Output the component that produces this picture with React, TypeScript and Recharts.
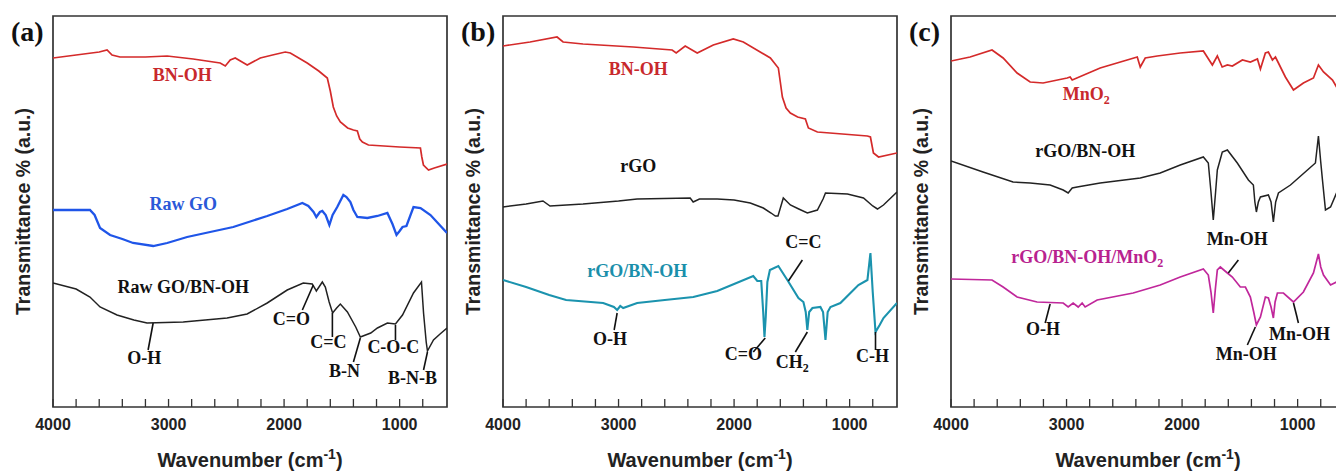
import React from "react";
import { LineChart, Line, XAxis, YAxis, ReferenceArea, ReferenceLine, ReferenceDot } from "recharts";

// wavenumber (cm-1), transmittance (a.u., offset per trace)
const BNOH_A: [number, number][] = [
  [4000, 349], [3800, 352], [3600, 355], [3532, 357], [3489, 352], [3420, 350], [3200, 350], [3012, 351],
  [2787, 348], [2553, 344], [2509, 341], [2466, 347], [2423, 349], [2319, 342], [2206, 349], [2100, 352],
  [1990, 355], [1946, 354], [1800, 344], [1700, 336], [1626, 329], [1600, 316], [1574, 300], [1545, 291],
  [1513, 285], [1450, 279], [1400, 277], [1366, 276], [1345, 268], [1322, 265], [1270, 262], [1000, 260],
  [820, 259], [808, 250], [794, 242], [750, 237], [700, 239], [590, 243],
];
const RAWGO_A: [number, number][] = [
  [4000, 197], [3680, 197], [3640, 192], [3593, 179], [3506, 172], [3400, 168], [3307, 164], [3133, 161],
  [3012, 164], [2839, 170], [2640, 175], [2440, 180], [2146, 191], [1973, 198], [1842, 204], [1790, 201],
  [1745, 195], [1721, 190], [1690, 195], [1669, 196], [1640, 192], [1608, 182], [1580, 192], [1540, 200],
  [1487, 212], [1460, 210], [1426, 205], [1400, 197], [1366, 190], [1279, 189], [1192, 191], [1106, 194],
  [1062, 183], [1027, 172], [1000, 176], [975, 180], [941, 181], [880, 200], [819, 199], [733, 192], [590, 174],
];
const RAWGOBN_A: [number, number][] = [
  [4000, 124], [3800, 118], [3680, 110], [3593, 100], [3446, 92], [3300, 87], [3186, 84], [2873, 85],
  [2493, 89], [2320, 93], [2146, 104], [1973, 117], [1834, 124], [1756, 123], [1730, 118], [1721, 116],
  [1669, 125], [1643, 120], [1610, 105], [1580, 94], [1545, 99], [1513, 103], [1452, 95], [1380, 80],
  [1340, 70], [1250, 74], [1192, 79], [1106, 84], [1036, 83], [975, 92], [880, 114], [811, 125], [793, 94],
  [770, 65], [759, 56], [707, 67], [650, 73], [590, 79],
];

const BNOH_B: [number, number][] = [
  [4000, 361], [3766, 365], [3532, 370], [3480, 365], [3307, 363], [2873, 360], [2536, 357], [2501, 354],
  [2423, 361], [2319, 354], [2180, 362], [2007, 368], [1920, 365], [1686, 349], [1617, 339], [1600, 325],
  [1582, 310], [1550, 299], [1513, 294], [1450, 290], [1383, 288], [1357, 279], [1279, 275], [846, 271],
  [820, 270], [794, 254], [750, 250], [590, 254],
];
const RGO_B: [number, number][] = [
  [4000, 200], [3800, 203], [3654, 206], [3593, 201], [3307, 203], [3000, 206], [2839, 208], [2380, 209],
  [2354, 205], [2300, 208], [2146, 208], [2000, 207], [1860, 204], [1747, 199], [1680, 194], [1643, 191],
  [1620, 191], [1574, 209], [1513, 202], [1440, 198], [1366, 194], [1279, 197], [1230, 208], [1209, 214],
  [1019, 213], [880, 209], [800, 201], [759, 198], [707, 202], [590, 215],
];
const RGOBN_B: [number, number][] = [
  [4000, 127], [3800, 120], [3600, 112], [3454, 107], [3133, 104], [3040, 100], [3012, 97], [2985, 101],
  [2960, 99], [2839, 104], [2600, 107], [2353, 110], [2146, 116], [2000, 123], [1834, 131], [1799, 126],
  [1765, 126], [1748, 95], [1737, 70], [1726, 90], [1712, 125], [1690, 137], [1617, 141], [1539, 127],
  [1443, 109], [1400, 105], [1380, 95], [1366, 77], [1350, 95], [1322, 99], [1253, 100], [1230, 95],
  [1209, 67], [1190, 95], [1166, 100], [1080, 104], [924, 122], [846, 127], [820, 154], [800, 115],
  [776, 75], [740, 82], [707, 89], [590, 104],
];

const MNO2_C: [number, number][] = [
  [4000, 346], [3835, 350], [3645, 357], [3549, 349], [3428, 334], [3315, 325], [3203, 324], [2995, 329],
  [2969, 330], [2951, 327], [2709, 339], [2388, 350], [2362, 340], [2319, 349], [2215, 351], [2016, 354],
  [1816, 356], [1738, 342], [1695, 351], [1653, 340], [1608, 342], [1565, 341], [1478, 347], [1409, 345],
  [1348, 348], [1322, 338], [1279, 354], [1253, 355], [1218, 347], [1192, 350], [1166, 344], [1106, 330],
  [1036, 317], [950, 324], [863, 329], [820, 342], [776, 335], [698, 327], [663, 320], [590, 308],
];
const RGOBN_C: [number, number][] = [
  [4000, 246], [3723, 235], [3463, 225], [3315, 224], [3142, 222], [3029, 217], [2986, 214], [2951, 219],
  [2908, 220], [2709, 224], [2362, 229], [2189, 234], [2016, 242], [1816, 250], [1773, 244], [1750, 215],
  [1730, 187], [1710, 215], [1695, 237], [1652, 255], [1608, 257], [1522, 244], [1426, 227], [1383, 222],
  [1370, 205], [1357, 195], [1340, 205], [1322, 210], [1253, 212], [1230, 205], [1210, 185], [1190, 205],
  [1166, 214], [1062, 222], [915, 237], [846, 244], [820, 271], [800, 245], [785, 227], [759, 197],
  [715, 200], [663, 214], [590, 225],
];
const MIX_C: [number, number][] = [
  [4000, 128], [3645, 127], [3549, 120], [3428, 110], [3255, 105], [3029, 104], [2986, 100], [2943, 104],
  [2899, 100], [2865, 104], [2839, 100], [2735, 107], [2423, 114], [2189, 122], [2016, 130], [1816, 138],
  [1773, 132], [1750, 115], [1730, 94], [1712, 118], [1695, 137], [1669, 140], [1608, 134], [1565, 130],
  [1496, 120], [1452, 120], [1409, 110], [1380, 95], [1357, 82], [1322, 90], [1279, 110], [1253, 109],
  [1230, 100], [1210, 89], [1195, 105], [1175, 114], [1123, 114], [1036, 105], [950, 115], [863, 134],
  [820, 153], [800, 140], [776, 132], [715, 122], [663, 125], [590, 132],
];

const TICKS = [4000, 3800, 3600, 3400, 3200, 3000, 2800, 2600, 2400, 2200, 2000, 1800, 1600, 1400, 1200, 1000, 800];

type Series = { data: [number, number][]; color: string; width: number };
type Note = { text: string; w: number; t: number; color?: string };
type Leader = [number, number, number, number];

const RED = "#d42a2a";
const BLUE = "#1f55e8";
const TEAL = "#1b93ae";
const MAGENTA = "#c0279b";
const INK = "#222";

const panels: { left: number; letter: string; series: Series[]; notes: Note[]; leaders: Leader[] }[] = [
  {
    left: 0,
    letter: "(a)",
    series: [
      { data: BNOH_A, color: RED, width: 1.7 },
      { data: RAWGO_A, color: BLUE, width: 2.3 },
      { data: RAWGOBN_A, color: INK, width: 1.5 },
    ],
    notes: [
      { text: "BN-OH", w: 2882, t: 326, color: "#c8282c" },
      { text: "Raw GO", w: 2873, t: 197, color: "#2a58d8" },
      { text: "Raw GO/BN-OH", w: 2873, t: 114 },
      { text: "O-H", w: 3211, t: 43 },
      { text: "C=O", w: 1937, t: 82 },
      { text: "C=C", w: 1617, t: 59 },
      { text: "B-N", w: 1478, t: 30 },
      { text: "C-O-C", w: 1054, t: 54 },
      { text: "B-N-B", w: 889, t: 23 },
    ],
    leaders: [
      [3133, 84, 3177, 57],
      [1842, 97, 1747, 122],
      [1582, 94, 1582, 70],
      [1400, 45, 1340, 69],
      [1036, 82, 1036, 67],
      [793, 37, 759, 55],
    ],
  },
  {
    left: 450,
    letter: "(b)",
    series: [
      { data: BNOH_B, color: RED, width: 1.7 },
      { data: RGO_B, color: INK, width: 1.5 },
      { data: RGOBN_B, color: TEAL, width: 2.1 },
    ],
    notes: [
      { text: "BN-OH", w: 2830, t: 332, color: "#c8282c" },
      { text: "rGO", w: 2830, t: 235 },
      { text: "rGO/BN-OH", w: 2839, t: 130, color: "#1a8fab" },
      { text: "O-H", w: 3073, t: 62 },
      { text: "C=O", w: 1920, t: 47 },
      { text: "CH_2", w: 1496, t: 39 },
      { text: "C=C", w: 1400, t: 159 },
      { text: "C-H", w: 802, t: 45 },
    ],
    leaders: [
      [3012, 94, 3038, 77],
      [1730, 69, 1834, 55],
      [1366, 75, 1470, 55],
      [1409, 147, 1530, 126],
      [776, 75, 776, 57],
    ],
  },
  {
    left: 898,
    letter: "(c)",
    series: [
      { data: MNO2_C, color: RED, width: 1.7 },
      { data: RGOBN_C, color: INK, width: 1.5 },
      { data: MIX_C, color: MAGENTA, width: 1.7 },
    ],
    notes: [
      { text: "MnO_2", w: 2830, t: 307, color: "#c8282c" },
      { text: "rGO/BN-OH", w: 2839, t: 250 },
      { text: "rGO/BN-OH/MnO_2", w: 2821, t: 144, color: "#b8228f" },
      { text: "O-H", w: 3203, t: 72 },
      { text: "Mn-OH", w: 1522, t: 162 },
      { text: "Mn-OH", w: 1444, t: 47 },
      { text: "Mn-OH", w: 984, t: 67 },
    ],
    leaders: [
      [3142, 103, 3185, 84],
      [1513, 147, 1600, 134],
      [1435, 62, 1366, 80],
      [1036, 104, 993, 84],
    ],
  },
];

const SERIF = "'Liberation Serif', 'Times New Roman', serif";
const SANS = "'Liberation Sans', Arial, sans-serif";

function WaveTick(props: any) {
  const { x, y, payload } = props;
  const major = payload.value % 1000 === 0;
  return (
    <g>
      <line x1={x} x2={x} y1={y} y2={y - 8} stroke="#333" strokeWidth={1.3} />
      {major && (
        <text x={x} y={y + 23} textAnchor="middle" fontFamily={SANS} fontWeight="bold" fontSize={16} fill="#222">
          {payload.value}
        </text>
      )}
    </g>
  );
}

function XTitle(props: any) {
  const vb = props.viewBox ?? { x: 53, y: 407, width: 394, height: 64 };
  const cx = vb.x + vb.width / 2;
  return (
    <text x={cx} y={vb.y + 60} textAnchor="middle" fontFamily={SANS} fontWeight="bold" fontSize={20} fill="#222">
      Wavenumber (cm
      <tspan dy={-8} fontSize={14}>-1</tspan>
      <tspan dy={8}>)</tspan>
    </text>
  );
}

function YTitle(props: any, letter: string) {
  const vb = props.viewBox ?? { x: 0, y: 16, width: 53, height: 391 };
  const cx = vb.x + 23;
  const cy = vb.y + vb.height / 2;
  return (
    <g>
      <text x={vb.x + 11} y={vb.y + 25} fontFamily={SERIF} fontWeight="bold" fontSize={28} fill="#111">
        {letter}
      </text>
      <text
        x={cx}
        y={cy}
        dy="0.35em"
        transform={`rotate(-90 ${cx} ${cy})`}
        textAnchor="middle"
        fontFamily={SANS}
        fontWeight="bold"
        fontSize={19.5}
        fill="#222"
      >
        Transmittance % (a.u.)
      </text>
    </g>
  );
}

function NoteText({ cx, cy, text, color }: { cx: number; cy: number; text: string; color: string }) {
  const parts = text.split(/_(\d)/);
  return (
    <text x={cx} y={cy} dy="0.35em" textAnchor="middle" fontFamily={SERIF} fontWeight="bold" fontSize={18} fill={color}>
      {parts.map((p, i) =>
        i % 2 === 1 ? (
          <tspan key={i} dy={4} fontSize={12}>
            {p}
          </tspan>
        ) : (
          <tspan key={i} dy={i > 0 ? -4 : 0}>
            {p}
          </tspan>
        )
      )}
    </text>
  );
}

function Panel({ left, letter, series, notes, leaders }: (typeof panels)[number]) {
  return (
    <div style={{ position: "absolute", left, top: 0 }}>
      <LineChart width={450} height={471} margin={{ top: 16, right: 3, bottom: 0, left: 0 }}>
        <XAxis
          type="number"
          dataKey="w"
          domain={[590, 4000]}
          reversed
          allowDataOverflow
          ticks={TICKS}
          interval={0}
          tickSize={0}
          tickMargin={0}
          axisLine={false}
          tickLine={false}
          height={64}
          tick={<WaveTick />}
          label={{ content: XTitle }}
        />
        <YAxis
          type="number"
          domain={[0, 391]}
          allowDataOverflow
          width={53}
          axisLine={false}
          tickLine={false}
          tick={false}
          label={{ content: (p: any) => YTitle(p, letter) }}
        />
        <ReferenceArea x1={4000} x2={590} y1={0} y2={391} fill="none" fillOpacity={0} stroke="#333" strokeWidth={1.7} />
        {series.map((s, i) => (
          <Line
            key={i}
            data={s.data.map(([w, t]) => ({ w, t }))}
            dataKey="t"
            type="linear"
            stroke={s.color}
            strokeWidth={s.width}
            dot={false}
            activeDot={false}
            isAnimationActive={false}
          />
        ))}
        {leaders.map(([w1, t1, w2, t2], i) => (
          <ReferenceLine
            key={`l${i}`}
            segment={[
              { x: w1, y: t1 },
              { x: w2, y: t2 },
            ]}
            stroke="#111"
            strokeWidth={1.6}
          />
        ))}
        {notes.map((n, i) => (
          <ReferenceDot
            key={`n${i}`}
            x={n.w}
            y={n.t}
            r={0}
            ifOverflow="visible"
            shape={(p: any) => <NoteText cx={p.cx} cy={p.cy} text={n.text} color={n.color ?? "#111"} />}
          />
        ))}
      </LineChart>
    </div>
  );
}

export default function App() {
  return (
    <div style={{ position: "absolute", left: 0, top: 0, width: 1336, height: 471, overflow: "hidden", background: "#fff" }}>
      {panels.map((p) => (
        <Panel key={p.letter} {...p} />
      ))}
    </div>
  );
}
